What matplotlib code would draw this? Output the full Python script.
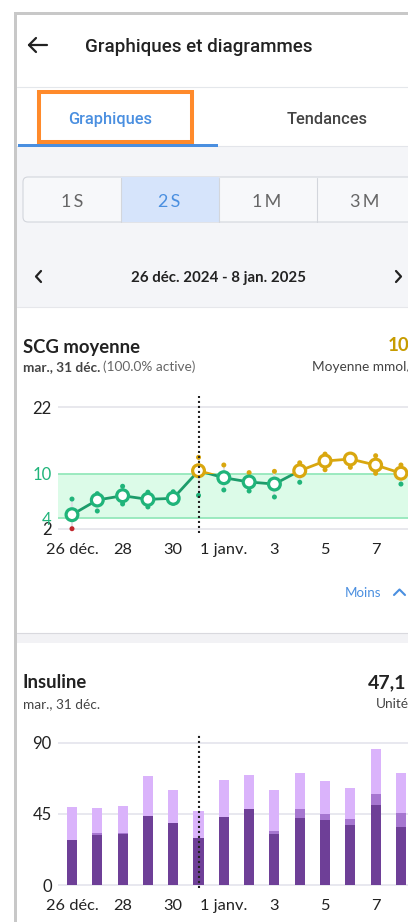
import numpy as np
import matplotlib.pyplot as plt
from matplotlib.patches import Rectangle, FancyBboxPatch
from matplotlib.lines import Line2D

jours = ["26 déc.", "27", "28", "29", "30", "31", "1 janv.", "2", "3", "4", "5", "6", "7", "8"]
x_ticks = [0, 2, 4, 6, 8, 10, 12]
x_labels = ["26 déc.", "28", "30", "1 janv.", "3", "5", "7"]
jour_choisi = 5

# SCG moyenne (mmol/L) avec min / max du jour
scg_moyenne = [4.45, 6.44, 7.02, 6.53, 6.67, 10.54, 9.46, 8.88, 8.60, 10.54, 12.30, 12.66, 11.57, 10.10]
scg_max = [6.57, 7.30, 8.30, 7.50, 7.56, 12.97, 11.58, 10.20, 10.43, 11.98, 13.56, 12.90, 13.26, 11.58]
scg_min = [2.00, 4.95, 5.90, 5.50, 6.00, 7.07, 7.80, 7.66, 6.85, 8.84, 10.72, 11.16, 10.07, 8.60]
scg_ticks = [2, 4, 10, 22]
cible_bas, cible_haut = 4, 10

# Insuline (unités)
ins_basale = [28.6, 31.9, 32.4, 43.5, 39.3, 29.6, 43.3, 48.4, 32.2, 42.3, 41.2, 37.9, 50.5, 36.6]
ins_mixte = [0, 1.0, 0.5, 0, 0, 0, 0, 0, 2.2, 6.0, 3.8, 3.9, 7.1, 9.0]
ins_totale = [49.2, 49.0, 50.2, 69.1, 59.9, 46.9, 66.4, 69.6, 60.1, 70.7, 65.8, 61.2, 85.8, 70.7]
ins_ticks = [0, 45, 90]

VERT = '#20b47a'
VERT_LIGNE = '#1d9c6b'
OR = '#d9a70f'
ROUGE = '#c1272d'
BLEU = '#4a8fe0'
NOIR = '#222222'

plt.rcParams['font.family'] = ['Lato', 'DejaVu Sans']

W, H = 408, 922
fig = plt.figure(figsize=(W / 100, H / 100), dpi=100)
fig.patch.set_facecolor('white')
T = fig.dpi_scale_trans


def pt(x, y):
    return x / 100, (H - y) / 100


def boite(x0, y0, x1, y1, fc, ec='none', lw=0, z=-5, arrondi=0):
    if arrondi:
        p = FancyBboxPatch(pt(x0, y1), (x1 - x0) / 100, (y1 - y0) / 100,
                           boxstyle=f"round,pad=0,rounding_size={arrondi / 100}",
                           transform=T, facecolor=fc, edgecolor=ec, linewidth=lw, zorder=z)
    else:
        p = Rectangle(pt(x0, y1), (x1 - x0) / 100, (y1 - y0) / 100, transform=T,
                      facecolor=fc, edgecolor=ec, linewidth=lw, zorder=z)
    fig.add_artist(p)


def trait(xs, ys, color, lw, z=2):
    fig.add_artist(Line2D([x / 100 for x in xs], [(H - y) / 100 for y in ys], transform=T,
                          color=color, lw=lw, zorder=z, solid_capstyle='round',
                          solid_joinstyle='round'))


def texte(x, y, s, **kw):
    return fig.text(x / 100, (H - y) / 100, s, transform=T, **kw)


# Cadre et fonds
boite(14.5, 12.5, 408, 15, '#c8c8c8', z=-4)
boite(14.5, 12.5, 17, 922, '#c8c8c8', z=-4)
trait([17, 408], [87, 87], '#e4e7eb', 0.8, z=-3)
boite(17, 146, 408, 307, '#f4f5f8')
trait([17, 408], [146, 146], '#e3e5ea', 0.8, z=-3)
trait([17, 408], [307, 307], '#e6e7eb', 0.8, z=-3)
boite(17, 632.5, 408, 643, '#f2f2f5')
trait([17, 408], [633, 633], '#d9d9de', 0.8, z=-3)

# En-tête
trait([29, 47], [45, 45], NOIR, 1.6)
trait([36, 29, 36], [38, 45, 52], NOIR, 1.6)
texte(85, 51.5, "Graphiques et diagrammes", family=['Roboto', 'DejaVu Sans'],
      weight=500, size=13.5, color=NOIR)

# Onglets
texte(110, 123.5, "Graphiques", family=['Roboto', 'DejaVu Sans'], weight=500,
      size=11.8, color=BLEU, ha='center')
texte(327, 123.5, "Tendances", family=['Roboto', 'DejaVu Sans'], weight=500,
      size=11.8, color='#444444', ha='center')
boite(18, 144, 218, 147, BLEU, z=1)
boite(38.5, 92.5, 192, 141.5, 'none', ec='#ff8a2b', lw=2.9, z=3)

# Sélecteur de période
boite(23, 177, 470, 222, '#f7f8fa', ec='#d3d6dc', lw=0.8, z=-2, arrondi=5)
boite(120.7, 177.5, 218.7, 221.5, '#d6e4fb', z=-1)
for xd in [120.7, 218.7, 316.7]:
    trait([xd, xd], [177.5, 221.5], '#d3d6dc', 0.8, z=-1)
for xc, lab in zip([72, 169.5, 267, 365], ["1S", "2S", "1M", "3M"]):
    texte(xc, 207, "\u2009".join(lab), size=13, ha='center',
          color=BLEU if lab == "2S" else '#666666')

# Navigation dates
trait([41, 36, 41], [271, 276.5, 282], NOIR, 1.6)
trait([396, 401, 396], [271, 276.5, 282], NOIR, 1.6)
texte(218, 281.5, "26 déc. 2024 - 8 jan. 2025", size=10.8, weight='bold', color=NOIR, ha='center')

# Carte SCG
texte(23, 353, "SCG moyenne", size=13.3, weight='bold', color=NOIR)
t1 = texte(23, 370.7, "mar., 31 déc.", size=9.8, weight='bold', color='#444444')
bb = t1.get_window_extent(fig.canvas.get_renderer())
texte(bb.x1 + 2.5, 370.7, "(100.0% active)", size=9.8, color='#666666')
texte(388, 350, "10,5", size=13.5, weight='bold', color='#c79c00')
texte(311.5, 370.7, "Moyenne mmol/L", size=9.8, color='#444444')
texte(345, 596.7, "Moins", size=9.6, color=BLEU)
trait([394, 399.5, 405], [595, 589.5, 595], BLEU, 1.5)

# Carte Insuline
texte(23, 688.3, "Insuline", size=13.3, weight='bold', color=NOIR)
texte(23, 708.3, "mar., 31 déc.", size=9.8, color='#444444')
texte(368, 688.3, "47,1", size=14, weight='bold', color=NOIR)
texte(376, 708.3, "Unités", size=9.8, color='#444444')

x = np.arange(len(jours))
largeur_px = 368
xlim = (-0.553, 13.99)

# --- Graphique SCG (échelle dilatée dans la plage cible)
knots_v = np.array([0, 2, 4, 10, 22, 30], dtype=float)
knots_p = np.array([-10.7, 0, 10.7, 55.0, 121.3, 165.5])


def avant(v):
    return np.interp(v, knots_v, knots_p)


def arriere(p):
    return np.interp(p, knots_p, knots_v)


def couleur(v):
    if v < cible_bas:
        return ROUGE
    if v > cible_haut:
        return OR
    return VERT


ax1 = fig.add_axes([58 / W, 1 - 533 / H, largeur_px / W, 137 / H])
ax1.set_yscale('function', functions=(avant, arriere))
ax1.set_xlim(*xlim)
ax1.set_ylim(1.2, 24.07)

ax1.axhspan(cible_bas, cible_haut, facecolor='#dcfbe8', edgecolor='none', zorder=0)
ax1.axhline(cible_bas, color='#94e8bb', lw=1.3, zorder=1)
ax1.axhline(cible_haut, color='#94e8bb', lw=1.3, zorder=1)
for t in [scg_ticks[0], scg_ticks[-1]]:
    ax1.axhline(t, color='#e6e6ec', lw=1.3, zorder=0)

ax1.vlines(x, scg_min, scg_max, color='#e2e2e6', lw=1.4, zorder=1)
ax1.scatter(x, scg_max, s=13, c=[couleur(v) for v in scg_max], linewidths=0, zorder=3)
ax1.scatter(x, scg_min, s=13, c=[couleur(v) for v in scg_min], linewidths=0, zorder=3)

l_vert, = ax1.plot(x, scg_moyenne, color=VERT_LIGNE, lw=2.0, zorder=4)
l_or, = ax1.plot(x, scg_moyenne, color=OR, lw=2.0, zorder=4)
l_vert.set_clip_path(Rectangle((-1, 0), 20, cible_haut, transform=ax1.transData))
l_or.set_clip_path(Rectangle((-1, cible_haut), 20, 30, transform=ax1.transData))

ax1.scatter(x, scg_moyenne, s=72, facecolor='white',
            edgecolors=[couleur(v) for v in scg_moyenne], linewidths=2.3, zorder=5)
ax1.axvline(jour_choisi, color=NOIR, lw=1.5, ls=(0, (1, 1.4)), zorder=6)

ax1.set_xticks(x_ticks, x_labels)
ax1.set_yticks(scg_ticks, [str(t) for t in scg_ticks])
ax1.yaxis.set_minor_locator(plt.NullLocator())
ax1.tick_params(axis='x', length=0, pad=7.5, labelsize=11.8, labelcolor=NOIR)
ax1.tick_params(axis='y', length=0, pad=4.5, labelsize=12)
for lab, t in zip(ax1.get_yticklabels(), scg_ticks):
    lab.set_color(VERT if t in (cible_bas, cible_haut) else NOIR)
for s in ax1.spines.values():
    s.set_visible(False)

# --- Graphique Insuline
ax2 = fig.add_axes([58 / W, 1 - 888.3 / H, largeur_px / W, 155 / H])
ax2.set_xlim(*xlim)
ax2.set_ylim(-1.9, 95.9)
for t in ins_ticks:
    ax2.axhline(t, color='#e6e6ee', lw=1.3, zorder=0)

basale = np.array(ins_basale)
mixte = np.array(ins_mixte)
haut = np.array(ins_totale) - basale - mixte
ax2.bar(x, basale, width=0.4, color='#6e3f97', zorder=2)
ax2.bar(x, mixte, bottom=basale, width=0.4, color='#a676d0', zorder=2)
ax2.bar(x, haut, bottom=basale + mixte, width=0.4, color='#dab3fb', zorder=2)
ax2.axvline(jour_choisi, color=NOIR, lw=1.5, ls=(0, (1, 1.4)), zorder=6)

ax2.set_xticks(x_ticks, x_labels)
ax2.set_yticks(ins_ticks, [str(t) for t in ins_ticks])
ax2.tick_params(axis='x', length=0, pad=7.5, labelsize=11.8, labelcolor=NOIR)
ax2.tick_params(axis='y', length=0, pad=4.5, labelsize=12, labelcolor=NOIR)
for s in ax2.spines.values():
    s.set_visible(False)

fig.savefig("out.png", dpi=100)
